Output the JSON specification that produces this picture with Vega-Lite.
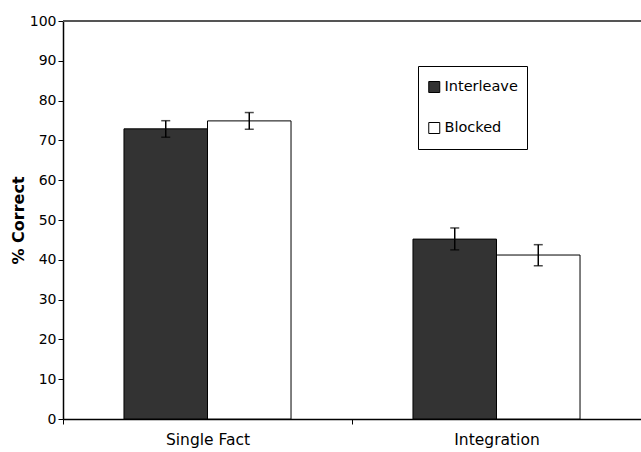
{
  "$schema": "https://vega.github.io/schema/vega-lite/v6.json",
  "autosize": {"type": "none"},
  "padding": {"left": 63, "top": 21, "right": 0, "bottom": 33},
  "width": 578,
  "height": 398,
  "background": "white",
  "config": {
    "view": {"stroke": null},
    "font": "DejaVu Sans",
    "axisY": {
      "titleFontSize": 16, "titleFontWeight": "bold", "titleColor": "black", "titlePadding": 3,
      "labelOverlap": false, "grid": false, "domainColor": "black", "domainWidth": 1.5,
      "tickColor": "black", "tickSize": 5, "labelFontSize": 14, "labelColor": "black", "labelPadding": 2
    }
  },
  "data": {
    "values": [
      {"task": "Single Fact", "condition": "Interleave", "pct": 72.9, "lo": 70.8, "hi": 74.95},
      {"task": "Single Fact", "condition": "Blocked", "pct": 74.9, "lo": 72.8, "hi": 77.0},
      {"task": "Integration", "condition": "Interleave", "pct": 45.2, "lo": 42.5, "hi": 48.0},
      {"task": "Integration", "condition": "Blocked", "pct": 41.2, "lo": 38.5, "hi": 43.8}
    ]
  },
  "layer": [
    {
      "mark": {"type": "rule", "stroke": "#555555", "strokeWidth": 2},
      "encoding": {
        "y": {
          "datum": 100, "type": "quantitative",
          "scale": {"domain": [0, 100], "nice": false},
          "axis": {"title": "% Correct", "values": [0,10,20,30,40,50,60,70,80,90,100]}
        }
      }
    },
    {
      "mark": {"type": "bar", "stroke": "black", "strokeWidth": 1},
      "encoding": {
        "x": {
          "field": "task", "type": "nominal", "sort": ["Single Fact", "Integration"],
          "scale": {"paddingInner": 0, "paddingOuter": 0},
          "axis": {
            "title": null, "labelAngle": 0, "tickBand": "extent", "domainColor": "black",
            "domainWidth": 1.5, "tickColor": "black", "tickSize": 5, "labelFontSize": 15.5,
            "labelColor": "black", "labelPadding": 8
          }
        },
        "xOffset": {
          "field": "condition", "type": "nominal", "sort": ["Interleave", "Blocked"],
          "scale": {"paddingInner": 0, "paddingOuter": 0.73}
        },
        "y": {
          "field": "pct", "type": "quantitative",
          "axis": {"title": "% Correct", "values": [0,10,20,30,40,50,60,70,80,90,100]}
        },
        "fill": {
          "field": "condition", "type": "nominal", "sort": ["Interleave", "Blocked"],
          "scale": {"domain": ["Interleave", "Blocked"], "range": ["#333333", "#ffffff"]},
          "legend": {
            "title": null, "orient": "none", "legendX": 355, "legendY": 45,
            "strokeColor": "black", "padding": 9, "symbolType": "square", "symbolSize": 121,
            "symbolStrokeColor": "black", "symbolStrokeWidth": 1, "labelFontSize": 14.5,
            "labelColor": "black", "rowPadding": 17, "clipHeight": 24, "labelOffset": 3, "fillColor": "white"
          }
        }
      }
    },
    {
      "mark": {"type": "rule", "stroke": "black", "strokeWidth": 1.5},
      "encoding": {
        "x": {"field": "task", "type": "nominal", "sort": ["Single Fact", "Integration"]},
        "xOffset": {"field": "condition", "type": "nominal", "sort": ["Interleave", "Blocked"]},
        "y": {"field": "lo", "type": "quantitative", "axis": {"title": "% Correct", "values": [0,10,20,30,40,50,60,70,80,90,100]}},
        "y2": {"field": "hi"}
      }
    },
    {
      "mark": {"type": "tick", "color": "black", "size": 9, "thickness": 1.5, "orient": "horizontal"},
      "encoding": {
        "x": {"field": "task", "type": "nominal", "sort": ["Single Fact", "Integration"]},
        "xOffset": {"field": "condition", "type": "nominal", "sort": ["Interleave", "Blocked"]},
        "y": {"field": "lo", "type": "quantitative", "axis": {"title": "% Correct", "values": [0,10,20,30,40,50,60,70,80,90,100]}}
      }
    },
    {
      "mark": {"type": "tick", "color": "black", "size": 9, "thickness": 1.5, "orient": "horizontal"},
      "encoding": {
        "x": {"field": "task", "type": "nominal", "sort": ["Single Fact", "Integration"]},
        "xOffset": {"field": "condition", "type": "nominal", "sort": ["Interleave", "Blocked"]},
        "y": {"field": "hi", "type": "quantitative", "axis": {"title": "% Correct", "values": [0,10,20,30,40,50,60,70,80,90,100]}}
      }
    }
  ]
}
